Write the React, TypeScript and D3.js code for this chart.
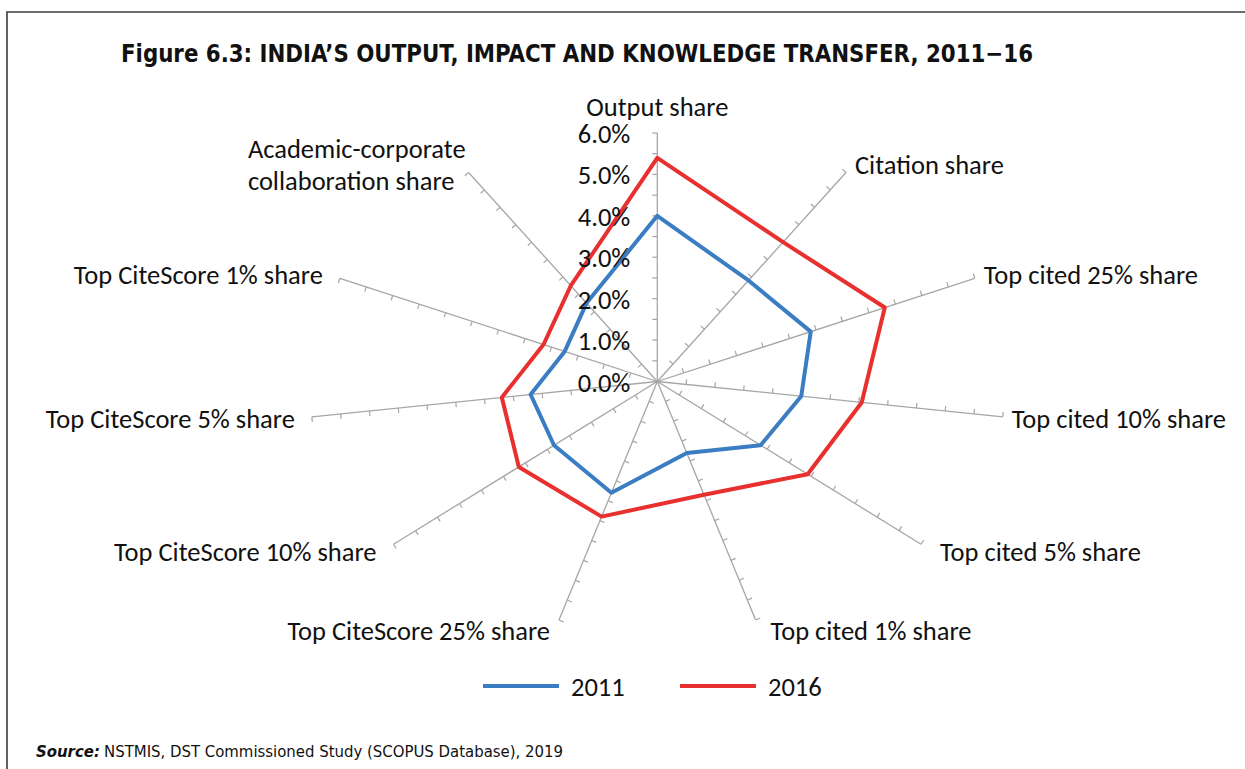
import { useEffect, useRef } from 'react';
import * as d3 from 'd3';

const categories = [
  'Output share',
  'Citation share',
  'Top cited 25% share',
  'Top cited 10% share',
  'Top cited 5% share',
  'Top cited 1% share',
  'Top CiteScore 25% share',
  'Top CiteScore 10% share',
  'Top CiteScore 5% share',
  'Top CiteScore 1% share',
  'Academic-corporate collaboration share',
];

// shares in %
const values2011 = [4.0, 2.9, 2.9, 2.5, 2.35, 1.8, 2.8, 2.35, 2.2, 1.75, 2.25];
const values2016 = [5.4, 4.0, 4.3, 3.55, 3.42, 2.85, 3.4, 3.15, 2.7, 2.15, 2.75];

const seriesNames = ['2011', '2016'];
const seriesColors = ['#3b7dc2', '#e8302f'];
const tickValues = [0, 1, 2, 3, 4, 5, 6];

const title = 'Figure 6.3: INDIA\u2019S OUTPUT, IMPACT AND KNOWLEDGE TRANSFER, 2011\u221216';
const sourceText = 'NSTMIS, DST Commissioned Study (SCOPUS Database), 2019';

const W = 1245;
const H = 769;
const labelFont = "Carlito, Calibri, Lato, sans-serif";
const condFont = "'Liberation Sans Narrow', 'DejaVu Sans Condensed', 'Arial Narrow', sans-serif";
const fs = 26.5;

export default function App() {
  const ref = useRef<SVGSVGElement | null>(null);

  useEffect(() => {
    if (!ref.current) return;
    const svg = d3.select(ref.current);
    svg.selectAll('*').remove();

    // frame
    svg
      .append('path')
      .attr('d', `M7,${H} L7,12 L${W},12`)
      .attr('fill', 'none')
      .attr('stroke', '#3c3c3c')
      .attr('stroke-width', 1.6);

    svg
      .append('text')
      .attr('x', 121)
      .attr('y', 62)
      .attr('font-family', condFont)
      .attr('font-weight', 'bold')
      .attr('font-size', 25)
      .attr('textLength', 912)
      .attr('lengthAdjust', 'spacingAndGlyphs')
      .attr('fill', '#111')
      .text(title);

    const cx = 657.3;
    const cy = 381.5;
    const rx = 349; // chart is stretched horizontally
    const ry = 248.5;
    const n = categories.length;
    const angle = d3.scaleLinear().domain([0, n]).range([0, 2 * Math.PI]);
    const r = d3.scaleLinear().domain([0, 6]).range([0, 1]);

    const pt = (i: number, v: number): [number, number] => [
      cx + rx * r(v) * Math.sin(angle(i)),
      cy - ry * r(v) * Math.cos(angle(i)),
    ];

    const g = svg.append('g');

    // spokes + tick marks every 0.5%
    const minor = d3.range(0.5, 6.001, 0.5);
    categories.forEach((_, i) => {
      const [x1, y1] = pt(i, 6);
      g.append('line')
        .attr('x1', cx)
        .attr('y1', cy)
        .attr('x2', x1)
        .attr('y2', y1)
        .attr('stroke', '#a6a6a6')
        .attr('stroke-width', 1.3);
      const len = Math.hypot(x1 - cx, y1 - cy);
      const ux = (x1 - cx) / len;
      const uy = (y1 - cy) / len;
      minor.forEach(v => {
        const [tx, ty] = pt(i, v);
        g.append('line')
          .attr('x1', tx)
          .attr('y1', ty)
          .attr('x2', tx + uy * 5)
          .attr('y2', ty - ux * 5)
          .attr('stroke', '#a6a6a6')
          .attr('stroke-width', 1.2);
      });
    });

    // series
    const line = d3.line<[number, number]>().curve(d3.curveLinearClosed);
    [values2011, values2016].forEach((vals, s) => {
      g.append('path')
        .attr('d', line(vals.map((v, i) => pt(i, v))))
        .attr('fill', 'none')
        .attr('stroke', seriesColors[s])
        .attr('stroke-width', 4)
        .attr('stroke-linejoin', 'round');
    });

    // value labels on the first spoke
    tickValues.forEach(v => {
      const [, ty] = pt(0, v);
      g.append('text')
        .attr('x', cx - 27)
        .attr('y', ty + 1)
        .attr('text-anchor', 'end')
        .attr('dominant-baseline', 'central')
        .attr('font-family', labelFont)
        .attr('font-size', fs)
        .attr('fill', '#111')
        .text(d3.format('.1f')(v) + '%');
    });

    // category labels
    categories.forEach((name, i) => {
      const a = angle(i);
      const [ex, ey] = pt(i, 6);
      const s = Math.sin(a);
      const c = Math.cos(a);
      const label = () =>
        g.append('text').attr('font-family', labelFont).attr('font-size', fs).attr('fill', '#111');
      if (Math.abs(s) < 0.01) {
        label().attr('x', ex).attr('y', ey - 17).attr('text-anchor', 'middle').text(name);
        return;
      }
      if (name.length > 25) {
        const parts = [name.split(' ')[0], name.split(' ').slice(1).join(' ')];
        const lines = parts.map((w, k) => label().attr('y', ey - 14 + k * 32).text(w));
        const widest = d3.max(lines, l => (l.node() as SVGTextElement).getComputedTextLength()) ?? 0;
        lines.forEach(l => l.attr('x', ex - 3 - widest));
        return;
      }
      const dx = s > 0 ? (c > -0.3 ? 9 : c < -0.9 ? 15 : 19) : c < -0.9 ? -9 : -17;
      label()
        .attr('x', ex + dx)
        .attr('y', ey - c * 10 + 1)
        .attr('dominant-baseline', 'central')
        .attr('text-anchor', s > 0 ? 'start' : 'end')
        .text(name);
    });

    // legend
    const legend = svg.append('g').attr('transform', 'translate(483,686)');
    seriesNames.forEach((name, s) => {
      const lg = legend.append('g').attr('transform', `translate(${s * 197},0)`);
      lg.append('line')
        .attr('x1', 0)
        .attr('x2', 76)
        .attr('stroke', seriesColors[s])
        .attr('stroke-width', 4);
      lg.append('text')
        .attr('x', 88)
        .attr('y', 1)
        .attr('dominant-baseline', 'central')
        .attr('font-family', labelFont)
        .attr('font-size', fs)
        .attr('fill', '#111')
        .text(name);
    });

    // source
    const src = svg
      .append('text')
      .attr('x', 36)
      .attr('y', 757)
      .attr('font-family', condFont)
      .attr('font-size', 16)
      .attr('textLength', 527)
      .attr('lengthAdjust', 'spacingAndGlyphs')
      .attr('fill', '#111');
    src.append('tspan').attr('font-weight', 'bold').attr('font-style', 'italic').text('Source:');
    src.append('tspan').attr('dx', 4).text(sourceText);
  }, []);

  return (
    <svg
      ref={ref}
      width={W}
      height={H}
      style={{ position: 'absolute', left: 0, top: 0, background: '#fff' }}
    />
  );
}
